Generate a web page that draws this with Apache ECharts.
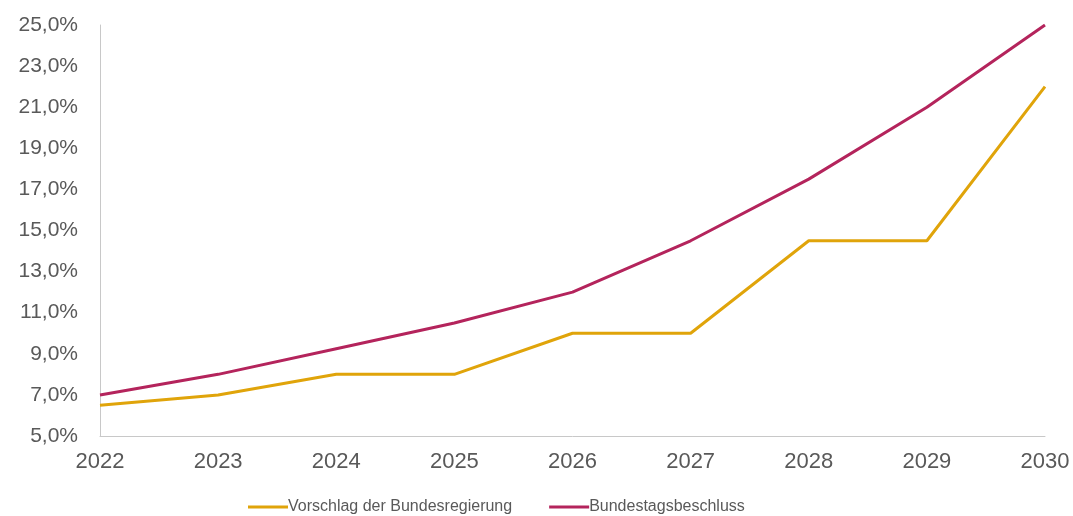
<!DOCTYPE html>
<html>
<head>
<meta charset="utf-8">
<script src="https://cdn.jsdelivr.net/npm/echarts@6/dist/echarts.min.js"></script>
<style>
  html, body { margin: 0; padding: 0; background: #fff; }
  #chart { width: 1073px; height: 516px; }
</style>
</head>
<body>
<div id="chart"></div>
<script>
const years = ['2022', '2023', '2024', '2025', '2026', '2027', '2028', '2029', '2030'];
const vorschlag = [6.5, 7.0, 8.0, 8.0, 10.0, 10.0, 14.5, 14.5, 22.0];
const beschluss = [7.0, 8.0, 9.25, 10.5, 12.0, 14.5, 17.5, 21.0, 25.0];

const chart = echarts.init(document.getElementById('chart'));
const font = '"Liberation Sans", Arial, sans-serif';

const option = {
    animation: false,
    grid: {
        left: 100,
        right: 28,
        top: 25,
        bottom: 80
    },
    legend: {
        top: 494,
        left: 243,
        icon: 'rect',
        itemWidth: 40,
        itemHeight: 3,
        itemGap: 37,
        textStyle: {
            fontFamily: font,
            fontSize: 16,
            color: '#595959',
            padding: [0, 0, 0, -5]
        },
        data: ['Vorschlag der Bundesregierung', 'Bundestagsbeschluss']
    },
    xAxis: {
        type: 'category',
        data: years,
        boundaryGap: false,
        axisLine: { lineStyle: { color: '#c8c8c8', width: 1 } },
        axisTick: { show: false },
        axisLabel: {
            fontFamily: font,
            fontSize: 22,
            color: '#595959',
            margin: 15
        }
    },
    yAxis: {
        type: 'value',
        min: 5,
        max: 25,
        interval: 2,
        axisLine: { show: true, lineStyle: { color: '#c8c8c8', width: 1 } },
        axisTick: { show: false },
        splitLine: { show: false },
        axisLabel: {
            fontFamily: font,
            fontSize: 21,
            color: '#595959',
            margin: 22,
            formatter: v => v.toFixed(1).replace('.', ',') + '%'
        }
    },
    series: [
        {
            name: 'Vorschlag der Bundesregierung',
            type: 'line',
            data: vorschlag,
            symbol: 'none',
            lineStyle: { color: '#e0a40a', width: 3 },
            itemStyle: { color: '#e0a40a' }
        },
        {
            name: 'Bundestagsbeschluss',
            type: 'line',
            data: beschluss,
            symbol: 'none',
            lineStyle: { color: '#b4245c', width: 3 },
            itemStyle: { color: '#b4245c' }
        }
    ]
};
chart.setOption(option);
</script>
</body>
</html>
